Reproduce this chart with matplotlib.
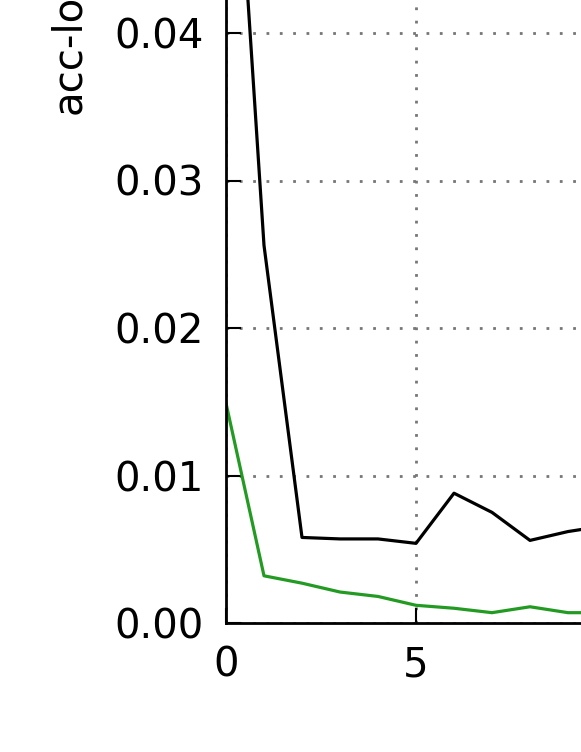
import matplotlib
matplotlib.use('Agg')
import matplotlib.pyplot as plt

# epochs and values
epochs = [0, 1, 2, 3, 4, 5, 6, 7, 8, 9, 10]
loss_black = [0.065, 0.0256, 0.0058, 0.0057, 0.0057, 0.0054, 0.0088, 0.0075, 0.0056, 0.0062, 0.0066]
loss_green = [0.0149, 0.0032, 0.0027, 0.0021, 0.0018, 0.0012, 0.0010, 0.0007, 0.0011, 0.0007, 0.0007]
x_ticks = [0, 5, 10]
y_ticks = [0.00, 0.01, 0.02, 0.03, 0.04]
y_ticklabels = ['0.00', '0.01', '0.02', '0.03', '0.04']

plt.rcParams['font.family'] = ['DejaVu Sans']
fig = plt.figure(figsize=(5.81, 7.52), dpi=100)
# the axes runs past the top and right edge of the picture (cropped view)
ax = fig.add_axes([226 / 581, 129 / 752, 760 / 581, 1180 / 752])

ax.plot(epochs, loss_black, color='black', linewidth=2.3)
ax.plot(epochs, loss_green, color='#239b23', linewidth=2.3)

ax.set_xlim(0, 20)
ax.set_ylim(0, 0.08)
ax.set_xticks(x_ticks)
ax.set_yticks(y_ticks)
ax.set_yticklabels(y_ticklabels)
ax.tick_params(direction='in', length=11, width=1.5, pad=16, labelsize=29)
ax.grid(True, color='#777777', linestyle=(0, (1, 3.8)), linewidth=2)
for s in ax.spines.values():
    s.set_linewidth(2)
ax.set_ylabel('acc-loss', fontsize=29, labelpad=18)

fig.savefig('out.png', dpi=100)
